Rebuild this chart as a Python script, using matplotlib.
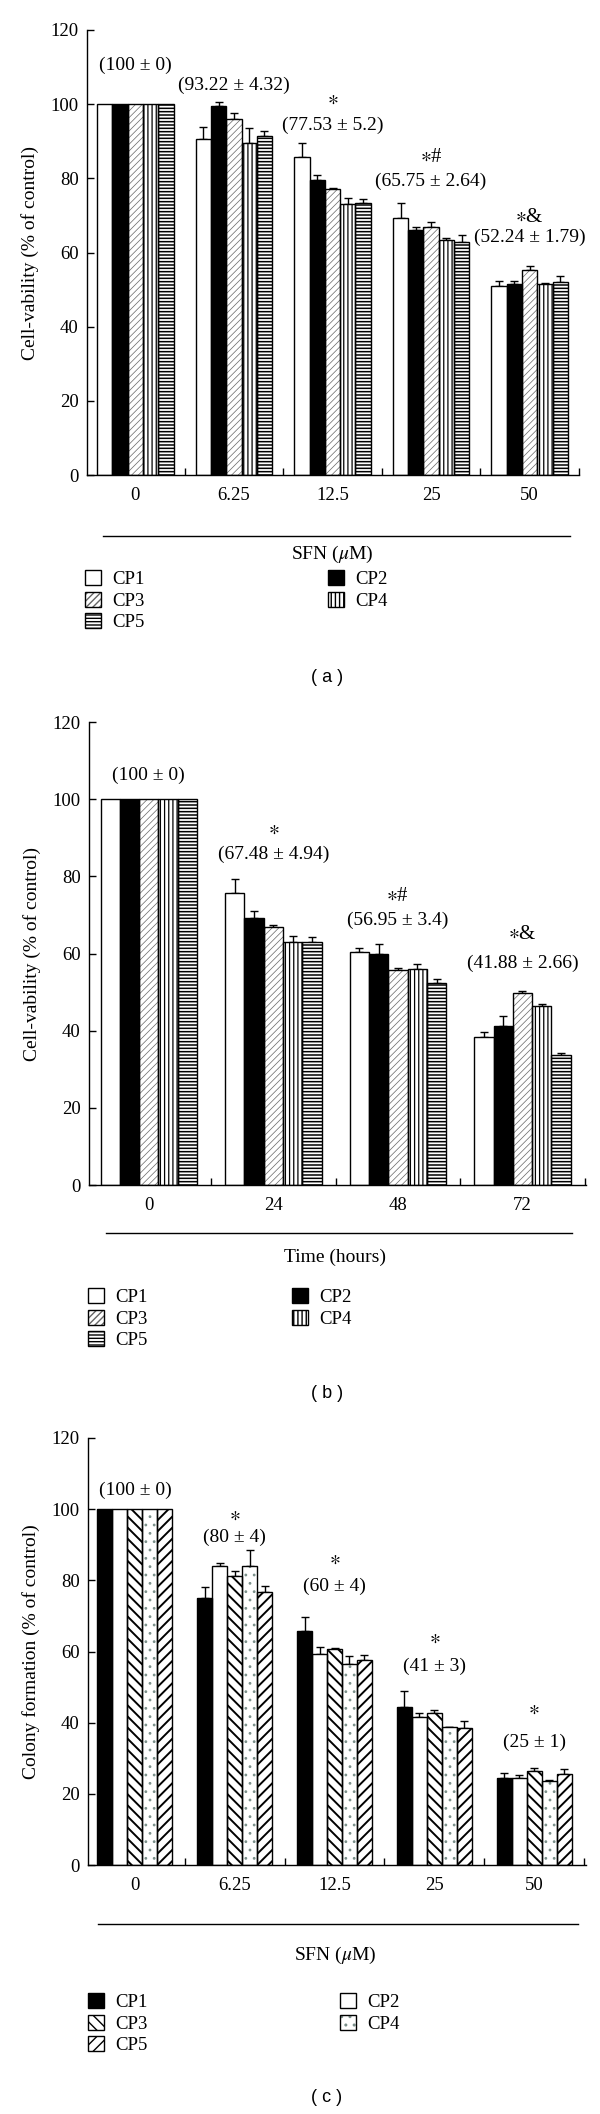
import matplotlib
matplotlib.use('Agg')
import matplotlib.pyplot as plt
import numpy as np
from matplotlib.patches import Patch
from matplotlib.lines import Line2D

plt.rcParams['font.family'] = ['Liberation Serif', 'DejaVu Serif']
plt.rcParams['mathtext.fontset'] = 'stix'

#Data
series = ['CP1', 'CP2', 'CP3', 'CP4', 'CP5']

sfn_labels = ['0', '6.25', '12.5', '25', '50']
a_vals = {
    'CP1': [100, 90.5, 85.8, 69.2, 50.9],
    'CP2': [100, 99.4, 79.5, 66.2, 51.5],
    'CP3': [100, 95.9, 77.0, 67.0, 55.4],
    'CP4': [100, 89.4, 73.0, 63.5, 51.5],
    'CP5': [100, 91.4, 73.4, 62.9, 52.1],
}
a_errs = {
    'CP1': [0, 3.4, 3.7, 4.2, 1.5],
    'CP2': [0, 1.3, 1.4, 0.8, 0.9],
    'CP3': [0, 1.8, 0.5, 1.3, 0.9],
    'CP4': [0, 4.1, 1.6, 0.3, 0.2],
    'CP5': [0, 1.4, 0.9, 1.8, 1.5],
}
a_notes = ['(100 ± 0)', '(93.22 ± 4.32)', '(77.53 ± 5.2)', '(65.75 ± 2.64)', '(52.24 ± 1.79)']
a_stars = ['', '', r'$\ast$', r'$\ast$#', r'$\ast$&']

time_labels = ['0', '24', '48', '72']
b_vals = {
    'CP1': [100, 75.6, 60.4, 38.3],
    'CP2': [100, 69.1, 60.0, 41.3],
    'CP3': [100, 66.9, 55.7, 49.7],
    'CP4': [100, 62.9, 56.0, 46.5],
    'CP5': [100, 63.0, 52.4, 33.6],
}
b_errs = {
    'CP1': [0, 3.8, 0.9, 1.3],
    'CP2': [0, 1.9, 2.4, 2.5],
    'CP3': [0, 0.5, 0.6, 0.6],
    'CP4': [0, 1.6, 1.2, 0.5],
    'CP5': [0, 1.3, 0.9, 0.7],
}
b_notes = ['(100 ± 0)', '(67.48 ± 4.94)', '(56.95 ± 3.4)', '(41.88 ± 2.66)']
b_stars = ['', r'$\ast$', r'$\ast$#', r'$\ast$&']

c_vals = {
    'CP1': [100, 75.0, 65.9, 44.5, 24.5],
    'CP2': [100, 84.0, 59.4, 41.5, 24.4],
    'CP3': [100, 81.1, 60.8, 42.6, 26.3],
    'CP4': [100, 84.0, 56.5, 38.7, 23.6],
    'CP5': [100, 76.8, 57.7, 38.4, 25.5],
}
c_errs = {
    'CP1': [0, 3.0, 3.9, 4.3, 1.4],
    'CP2': [0, 0.8, 1.8, 1.1, 1.0],
    'CP3': [0, 1.6, 0.3, 1.0, 1.0],
    'CP4': [0, 4.4, 2.1, 0.2, 0.4],
    'CP5': [0, 1.7, 1.3, 2.2, 1.4],
}
c_notes = ['(100 ± 0)', '(80 ± 4)', '(60 ± 4)', '(41 ± 3)', '(25 ± 1)']
c_stars = ['', r'$\ast$', r'$\ast$', r'$\ast$', r'$\ast$']

#Fill styles: (face, hatch, hatch colour, hatch linewidth)
style_ab = {
    'CP1': ('white', None, 'black', 1.0),
    'CP2': ('black', None, 'black', 1.0),
    'CP3': ('white', '/////', '#666666', 0.5),
    'CP4': ('white', '||||', 'black', 0.9),
    'CP5': ('white', '-----', 'black', 1.1),
}
style_c = {
    'CP1': ('black', None, 'black', 1.0),
    'CP2': ('white', None, 'black', 1.0),
    'CP3': ('white', '\\\\\\', 'black', 1.4),
    'CP4': ('white', '..', '#7a8f8a', 0.8),
    'CP5': ('white', '///', 'black', 1.4),
}

W, H = 600, 2114


def fx(px):
    return px / W


def fy(py):
    return 1 - py / H


def make_axes(left, right, top, bottom):
    return fig.add_axes([fx(left), fy(bottom), (right - left) / W, (bottom - top) / H])


def draw_panel(ax, vals, errs, styles, labels, xlim, ylabel, width):
    n = len(labels)
    x = np.arange(n)
    handles = {}
    for i, name in enumerate(series):
        face, hatch, hcol, hlw = styles[name]
        pos = x + (i - 2) * width
        #hatch first (coloured), black outline drawn on top
        with plt.rc_context({'hatch.linewidth': hlw}):
            b1 = ax.bar(pos, vals[name], width, color=face, edgecolor=hcol,
                        hatch=hatch, linewidth=0, zorder=2)
            for p in b1:
                if hasattr(p, 'set_hatch_linewidth'):
                    p.set_hatch_linewidth(hlw)
        ax.bar(pos, vals[name], width, fill=False, edgecolor='black',
               linewidth=1.0, zorder=3)
        e = np.array(errs[name])
        m = e > 0
        ax.errorbar(pos[m], np.array(vals[name])[m], yerr=[np.zeros(m.sum()), e[m]],
                    fmt='none', ecolor='black', elinewidth=1.0, capsize=3,
                    capthick=1.0, zorder=1)
        with plt.rc_context({'hatch.linewidth': hlw}):
            p1 = Patch(facecolor=face, edgecolor=hcol, hatch=hatch, linewidth=0)
            if hasattr(p1, 'set_hatch_linewidth'):
                p1.set_hatch_linewidth(hlw)
        p2 = Patch(fill=False, edgecolor='black', linewidth=1.0)
        handles[name] = (p1, p2)

    ax.set_xlim(*xlim)
    ax.set_ylim(0, 120)
    ax.set_yticks(range(0, 121, 20))
    ax.set_xticks(x)
    ax.set_xticklabels(labels)
    ax.set_xticks(x + 0.5, minor=True)
    ax.tick_params(axis='x', which='major', length=0, pad=9, labelsize=13.5)
    ax.tick_params(axis='x', which='minor', direction='in', length=5, width=1)
    ax.tick_params(axis='y', direction='in', length=5, width=1, pad=6, labelsize=13.5)
    ax.spines['top'].set_visible(False)
    ax.spines['right'].set_visible(False)
    ax.spines['left'].set_linewidth(1.0)
    ax.spines['bottom'].set_linewidth(1.0)
    ax.set_ylabel(ylabel, fontsize=14, labelpad=8)
    return handles


def annotate(ax, notes, stars, note_pos, star_pos):
    for i in range(len(notes)):
        ax.text(note_pos[i][0], note_pos[i][1], notes[i], ha='center', va='center', fontsize=14)
        if stars[i]:
            ax.text(star_pos[i][0], star_pos[i][1], stars[i], ha='center', va='center', fontsize=15)


def add_legend(handles, col1_x, col2_x, top_y):
    order1 = ['CP1', 'CP3', 'CP5']
    order2 = ['CP2', 'CP4']
    for names, xpos in ((order1, col1_x), (order2, col2_x)):
        fig.legend([handles[n] for n in names], names, loc='upper left',
                   bbox_to_anchor=(fx(xpos), fy(top_y)), frameon=False,
                   fontsize=13.5, handlelength=0.85, handleheight=0.85,
                   handletextpad=0.6, labelspacing=0.2, borderpad=0,
                   borderaxespad=0)


fig = plt.figure(figsize=(6, 21.14), dpi=100)

# (a)
ax_a = make_axes(87, 579, 30, 475)
h_a = draw_panel(ax_a, a_vals, a_errs, style_ab, sfn_labels,
                 (-0.49, 4.49), 'Cell-vability (% of control)', 0.155)
annotate(ax_a, a_notes, a_stars,
         [(0.0, 110.4), (1.0, 105.1), (2.0, 94.3), (3.0, 79.3), (4.0, 64.0)],
         [None, None, (2.0, 101.0), (3.0, 85.6), (4.0, 69.5)])
fig.add_artist(Line2D([fx(103), fx(570)], [fy(536), fy(536)], color='black', lw=1.0))
fig.text(fx(332), fy(554), r'SFN ($\mu$M)', ha='center', va='center', fontsize=14)
add_legend(h_a, 85, 328, 570)
fig.text(fx(327), fy(677), '( a )', ha='center', va='center', fontsize=13,
         family='Liberation Sans')

# (b)
ax_b = make_axes(89, 586, 722, 1185)
h_b = draw_panel(ax_b, b_vals, b_errs, style_ab, time_labels,
                 (-0.48, 3.51), 'Cell-vability (% of control)', 0.155)
annotate(ax_b, b_notes, b_stars,
         [(0.0, 106.2), (1.0, 85.8), (2.0, 68.7), (3.0, 57.4)],
         [None, (1.0, 92.0), (2.0, 74.8), (3.0, 64.8)])
fig.add_artist(Line2D([fx(106), fx(572)], [fy(1233), fy(1233)], color='black', lw=1.0))
fig.text(fx(335), fy(1257), 'Time (hours)', ha='center', va='center', fontsize=14)
add_legend(h_b, 88, 292, 1288)
fig.text(fx(327), fy(1393), '( b )', ha='center', va='center', fontsize=13,
         family='Liberation Sans')

# (c)
ax_c = make_axes(88, 586, 1438, 1865)
h_c = draw_panel(ax_c, c_vals, c_errs, style_c, sfn_labels,
                 (-0.47, 4.52), 'Colony formation (% of control)', 0.15)
annotate(ax_c, c_notes, c_stars,
         [(0.0, 105.4), (1.0, 92.0), (2.0, 78.2), (3.0, 55.8), (4.0, 34.6)],
         [None, (1.0, 98.0), (2.0, 85.5), (3.0, 63.3), (4.0, 43.5)])
fig.add_artist(Line2D([fx(98), fx(578)], [fy(1924), fy(1924)], color='black', lw=1.0))
fig.text(fx(335), fy(1955), r'SFN ($\mu$M)', ha='center', va='center', fontsize=14)
add_legend(h_c, 88, 340, 1993)
fig.text(fx(327), fy(2098), '( c )', ha='center', va='center', fontsize=13,
         family='Liberation Sans')

plt.savefig('out.png', dpi=100)
print("Created out.png")
